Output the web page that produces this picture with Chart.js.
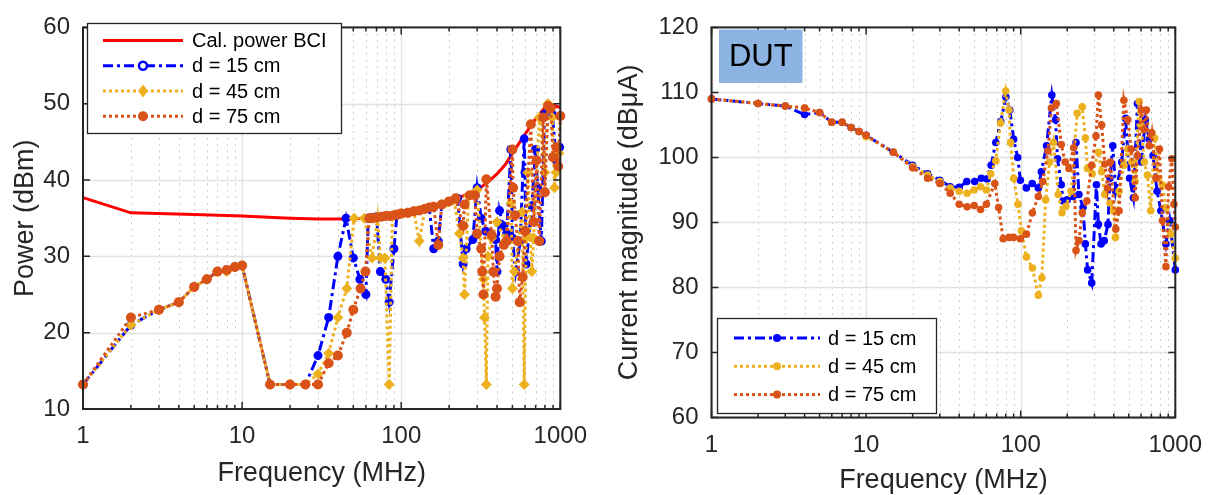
<!DOCTYPE html>
<html><head><meta charset="utf-8">
<script src="https://cdn.jsdelivr.net/npm/chart.js@4.4.1/dist/chart.umd.min.js"></script>
<style>
html,body{margin:0;padding:0;background:#fff;}
#wrap{position:relative;width:1215px;height:495px;overflow:hidden;}
.c{position:absolute;top:0;height:495px;}
</style></head><body>
<div id="wrap">
<div class="c" style="left:0;width:600px;"><canvas id="left"></canvas></div>
<div class="c" style="left:600px;width:615px;"><canvas id="right"></canvas></div>
</div>
<script>
// ---------- tick labels ----------
const xMajorTicks = [1, 10, 100, 1000];
const leftYTicks = [10, 20, 30, 40, 50, 60];
const rightYTicks = [60, 70, 80, 90, 100, 110, 120];

// ---------- LEFT PANEL: power (dBm) ----------
const calFreq = [1,2,5,10,20,30,45,60,80,100,150,200,250,300,350,400,450,500,550,600,700,800,900,1000];
const calPower = [37.7,35.7,35.5,35.3,35.0,34.9,34.9,35.0,35.3,35.6,36.4,37.2,38,38.7,39.7,40.8,42,43.5,44.8,46,48,49.5,49.8,49.5];

const pFreq15 = [1,2,3,4,5,6,7,8,9,10,15,20,25,30,35,40,45,50,55,60,62,66,70,74,80,84,90,94,100,110,120,130,140,150,160,171,180,200,226,245,256,282,300,318,340,365,392,400,415,437,460,489,500,524,560,593,600,610,662,699,720,760,795,838,890,946,990];
const pPow15 = [13.2,21,23,24,26,27,28,28.2,28.6,28.8,13.2,13.2,13.2,17,22,30,35,29.8,27,25,35,35.1,35.2,28,27,24,31,35.4,35.6,35.7,35.9,36,36.2,36.4,31,32,36.8,37.2,37.6,29,31,32.2,39,35,33.3,33,32.2,28,36,34,33,44,32.4,28,32,45.4,41,29,36.6,44,39,32,48.6,49,48.6,42.6,44.3];

const pFreq45 = [1,2,3,4,5,6,7,8,9,10,15,20,25,30,35,40,45.5,50.6,58.6,65.6,71,74,79,84,88,95,100,110,120,130,141,160,180,196,215,232,245,250,265,300,329,334,343,351,370,400,450,490,500,515,576,593,610,625,662,680,738,800,838,890,920,940,980];
const pPow45 = [13.2,21,23,24,26,27,28,28,28.6,28.8,13.2,13.2,13.2,14.6,17.3,22,25.8,35,35,29.8,35,29.8,29.8,13.2,35.2,35.5,35.6,35.7,35.9,32,36.2,36.5,36.8,37.1,37.4,33,29.8,25,37.9,38.7,27,22,13.2,30,32.4,34.5,32,37,25.8,28,35.8,13.2,32.4,41,28,32.4,48.2,41,50,48.2,39,41,43.5];

const pFreq75 = [1,2,3,4,5,6,7,8,9,10,15,20,25,30,35,40,45.5,50,55.5,59.6,63,66,70,75,80,85,90,95,100,110,120,130,140,150,160,171,180,200,220,245,250,270,290,300,318,323,329,343,370,380,392,400,415,442,460,500,505,520,540,556,580,600,653,680,710,738,780,800,837,870,900,946,970,1000];
const pPow75 = [13.2,22,23,24,26,27,28,28.2,28.6,28.8,13.2,13.2,13.2,13.2,16,17,20,23,25.8,28,35,35,35.1,35.2,35.3,35.3,35.4,35.5,35.6,35.7,35.9,36,36.2,36.4,36.5,31.5,36.8,37.2,37.6,34,36.8,38,38,33,31,28,25,40.1,32.8,28,24.7,25.8,30,31.5,32,44,39,35.4,32,24,27.3,33.3,47.3,34.5,42.6,32,48.2,38.4,49.7,49.4,43,44.3,41.8,48.4];

// ---------- RIGHT PANEL: current magnitude (dBuA) ----------
const cFreq15 = [1,2,3,4,5,6,7,8,9,10,15,20,25,30,35,40,44.8,50.4,55.6,60.6,64.4,69,74.3,80.2,85,90,95.6,99.5,108.8,118.8,130,136,147,159,168,173,183,188,200,218,228,238,253,262,271,288,309,318,331,347,367,378,394,412,450,477,506,536,569,603,640,678,718,762,807,870,920,1000];
const cMag15 = [109,108.3,107.9,106.6,106.9,105.4,105.4,104.6,104,103.4,100.8,98.8,97.5,96.5,95.5,95.4,96.3,96.3,96.8,96.7,98.8,102.3,105.5,109.3,107.3,102.8,100,96.5,95.3,96,95.3,97.8,101.8,109.6,105.8,99.8,95.8,93.3,93.5,94,102.3,94.3,92.3,86.7,82.7,80.7,95.8,89.7,86.7,87.2,89.7,96.8,101.8,94.8,99.3,106,96.8,93.8,108.3,99.3,105.8,102.8,100.3,94.8,91.8,86.7,90.3,82.7];

const cFreq45 = [1,2,3,4,5,6,7,8,9,10,15,20,25,30,35,40,45,50,55,60,64,69,74,80,84,86,90,96,101,109,119,130,137,145,154,163,175,185,196,212,232,250,262,270,290,318,334,350,378,398,410,433,465,493,524,550,584,603,630,660,693,735,780,823,870,933,1000];
const cMag45 = [109,108.3,107.9,107.6,106.9,105.4,105.4,104.6,104,103.2,100.8,98.6,97.3,96.3,95.3,94.8,94.5,95,95.5,95,97.5,99.5,105.3,110.2,107.3,102.3,96.8,92.8,88.7,84.7,83,78.8,81.5,93.5,99.3,102.3,94.3,91.5,92.5,94.8,106.8,107.8,103,98.3,97.5,100.8,97.8,94.3,93,91.8,87.7,94.8,98.8,101.3,99.3,96.3,108.6,104.8,99.3,97.3,91.8,103,96.8,95.8,92.3,88.2,84.5];

const cFreq75 = [1,2,3,4,5,6,7,8,9,10,15,20,25,30,35,40,45,50,55,60,68,72,77,84,90,99.5,109,119,130,139,150,158,170,183,194,205,220,228,238,250,268,288,307,318,334,350,364,380,412,433,465,493,518,550,569,603,630,650,678,705,750,790,826,870,905,950,980,1000];
const cMag75 = [109,108.3,107.9,107.6,106.9,105.4,105.4,104.6,104,103.4,100.8,98.4,96.8,96,94.5,92.8,92.4,92.6,92,92.8,96,92.3,87.5,87.7,87.7,87.5,88.2,91.5,94,96.3,101,107.6,108.3,102,99.3,98.3,101.5,85.7,87.2,91.5,93.3,98.8,103.3,109.6,105,99,95.3,99.3,89,91.8,108.8,105.8,101.3,93.8,100.3,107.3,104.3,107.3,101.8,103.8,96.8,101.3,90.3,83.2,95.5,99.8,92.8,89.3];

// ---------- styles ----------
const FONT = "'Liberation Sans', Arial, Helvetica, sans-serif";
const TXT = '#262626';
const C_RED = '#FF0000', C_BLUE = '#0000FF', C_YEL = '#EDB120', C_ORG = '#D95319';
const DASHDOT = [10, 4, 3, 4], DOT = [3, 3];

const pts = (xs, ys) => xs.map((x, i) => ({x, y: ys[i]}));

function minorValues() {
  const out = [];
  for (let d = 1; d < 1000; d *= 10) for (let m = 2; m <= 9; m++) out.push(d * m);
  return out;
}

const framePlugin = {
  id: 'frame',
  beforeDatasetsDraw(chart, args, o) {
    const {ctx, chartArea: a, scales: {x, y}} = chart;
    ctx.save();
    ctx.lineWidth = 1;
    ctx.strokeStyle = '#bdbdbd';
    ctx.setLineDash([1.5, 5]);
    for (const v of minorValues()) {
      const px = Math.round(x.getPixelForValue(v)) + 0.5;
      ctx.beginPath(); ctx.moveTo(px, a.top); ctx.lineTo(px, a.bottom); ctx.stroke();
    }
    ctx.setLineDash([]);
    ctx.strokeStyle = '#e1e1e1';
    ctx.lineWidth = 1.3;
    for (const v of xMajorTicks) {
      const px = Math.round(x.getPixelForValue(v)) + 0.5;
      ctx.beginPath(); ctx.moveTo(px, a.top); ctx.lineTo(px, a.bottom); ctx.stroke();
    }
    for (const v of o.yTicks) {
      const py = Math.round(y.getPixelForValue(v)) + 0.5;
      ctx.beginPath(); ctx.moveTo(a.left, py); ctx.lineTo(a.right, py); ctx.stroke();
    }
    ctx.restore();
  },
  afterDatasetsDraw(chart, args, o) {
    const {ctx, chartArea: a, scales: {x, y}} = chart;
    ctx.save();
    ctx.strokeStyle = TXT;
    ctx.lineWidth = 1.5;
    ctx.beginPath();
    for (const v of xMajorTicks) {
      const px = x.getPixelForValue(v);
      ctx.moveTo(px, a.bottom); ctx.lineTo(px, a.bottom - 7);
      ctx.moveTo(px, a.top); ctx.lineTo(px, a.top + 7);
    }
    for (const v of minorValues()) {
      const px = x.getPixelForValue(v);
      ctx.moveTo(px, a.bottom); ctx.lineTo(px, a.bottom - 4);
      ctx.moveTo(px, a.top); ctx.lineTo(px, a.top + 4);
    }
    for (const v of o.yTicks) {
      const py = y.getPixelForValue(v);
      ctx.moveTo(a.left, py); ctx.lineTo(a.left + 7, py);
      ctx.moveTo(a.right, py); ctx.lineTo(a.right - 7, py);
    }
    ctx.stroke();
    ctx.lineWidth = 2;
    ctx.strokeRect(a.left, a.top, a.right - a.left, a.bottom - a.top);

    if (o.tag) {
      const t = o.tag;
      ctx.fillStyle = '#8DB3E2';
      ctx.fillRect(t.x, t.y, t.w, t.h);
      ctx.fillStyle = '#000';
      ctx.font = `${t.size}px ${FONT}`;
      ctx.textAlign = 'center'; ctx.textBaseline = 'middle';
      ctx.fillText(t.text, t.x + t.w / 2, t.y + t.h / 2 + 1);
    }
    const L = o.legend;
    ctx.fillStyle = '#fff';
    ctx.fillRect(L.x, L.y, L.w, L.h);
    ctx.lineWidth = 1.3;
    ctx.strokeStyle = TXT;
    ctx.strokeRect(L.x + 0.5, L.y + 0.5, L.w, L.h);
    const ds = chart.data.datasets;
    L.items.forEach((idx, k) => {
      const d = ds[idx];
      const yy = L.y + L.row0 + k * L.rowH;
      ctx.strokeStyle = d.borderColor;
      ctx.lineWidth = d.borderWidth;
      ctx.setLineDash(d.borderDash || []);
      ctx.beginPath(); ctx.moveTo(L.x + L.lineX0, yy); ctx.lineTo(L.x + L.lineX1, yy); ctx.stroke();
      ctx.setLineDash([]);
      const mx = L.x + (L.lineX0 + L.lineX1) / 2;
      if (d.pointRadius > 0) {
        ctx.fillStyle = d.pointBackgroundColor;
        const r = L.markR;
        ctx.beginPath();
        if (d.pointStyle === 'rectRot') {
          ctx.moveTo(mx, yy - r - 1.5); ctx.lineTo(mx + r, yy); ctx.lineTo(mx, yy + r + 1.5); ctx.lineTo(mx - r, yy);
          ctx.closePath(); ctx.fill();
        } else if (d.legendOpen) {
          ctx.arc(mx, yy, r - 1, 0, Math.PI * 2);
          ctx.fillStyle = '#fff'; ctx.fill();
          ctx.lineWidth = 2.5; ctx.strokeStyle = d.borderColor; ctx.stroke();
        } else {
          ctx.arc(mx, yy, r, 0, Math.PI * 2); ctx.fill();
        }
      }
      ctx.fillStyle = '#000';
      ctx.font = `${L.size}px ${FONT}`;
      ctx.textAlign = 'left'; ctx.textBaseline = 'middle';
      ctx.fillText(d.label, L.x + L.textX, yy + 1);
    });
    ctx.restore();
  }
};

function makeChart(id, cfg) {
  const W = cfg.W, H = 495, A = cfg.area;
  return new Chart(document.getElementById(id), {
    type: 'line',
    data: {datasets: cfg.datasets},
    options: {
      responsive: true, maintainAspectRatio: false, animation: false, devicePixelRatio: 1,
      events: [],
      layout: {padding: {top: A.top, right: W - A.right, bottom: 0, left: 0}},
      plugins: {legend: {display: false}, tooltip: {enabled: false}, frame: cfg.frame},
      elements: {line: {tension: 0}},
      scales: {
        x: {
          type: 'logarithmic', min: 1, max: 1000,
          afterBuildTicks: s => { s.ticks = xMajorTicks.map(v => ({value: v})); },
          afterFit: s => { s.height = H - A.bottom; },
          grid: {display: false, drawTicks: false},
          border: {display: false},
          ticks: {autoSkip: false, maxRotation: 0, minRotation: 0, padding: cfg.xTickPad, color: TXT,
                  font: {family: FONT, size: cfg.tickSize}, callback: v => String(v)},
          title: {display: true, text: 'Frequency (MHz)', color: TXT,
                  font: {family: FONT, size: cfg.titleSize}, padding: {top: 0, bottom: cfg.xTitlePad}}
        },
        y: {
          min: cfg.yTicks[0], max: cfg.yTicks[cfg.yTicks.length - 1],
          afterBuildTicks: s => { s.ticks = cfg.yTicks.map(v => ({value: v})); },
          afterFit: s => { s.width = A.left; },
          grid: {display: false, drawTicks: false},
          border: {display: false},
          ticks: {padding: cfg.yTickPad, color: TXT, font: {family: FONT, size: cfg.tickSize}},
          title: {display: true, text: cfg.yTitle, color: TXT,
                  font: {family: FONT, size: cfg.titleSize}, padding: {top: cfg.yTitlePad, bottom: 0}}
        }
      }
    },
    plugins: [framePlugin]
  });
}

function series(label, data, color, dash, width, style, radius, order, extra) {
  return Object.assign({
    label, data, borderColor: color, borderWidth: width, borderDash: dash,
    pointStyle: style, pointRadius: radius, pointBackgroundColor: color, pointBorderColor: color,
    pointBorderWidth: 0, fill: false, clip: false, order
  }, extra || {});
}

makeChart('left', {
  W: 600, area: {left: 83, right: 563, top: 17.5, bottom: 409},
  yTicks: leftYTicks, yTitle: 'Power (dBm)',
  tickSize: 24, titleSize: 27, xTickPad: 13, xTitlePad: 5, yTickPad: 13, yTitlePad: 9,
  datasets: [
    series('Cal. power BCI', pts(calFreq, calPower), C_RED, [], 3, 'circle', 0, 3),
    series('d = 15 cm', pts(pFreq15, pPow15), C_BLUE, DASHDOT, 3, 'circle', 4.5, 2, {legendOpen: true}),
    series('d = 45 cm', pts(pFreq45, pPow45), C_YEL, DOT, 3, 'rectRot', 5.5, 1),
    series('d = 75 cm', pts(pFreq75, pPow75), C_ORG, DOT, 3, 'circle', 5, 0)
  ],
  frame: {
    yTicks: leftYTicks,
    legend: {x: 87, y: 23, w: 254, h: 110, row0: 17.6, rowH: 25.2, lineX0: 16, lineX1: 96, markR: 5,
             textX: 105, size: 20, items: [0, 1, 2, 3]}
  }
});

makeChart('right', {
  W: 615, area: {left: 111.5, right: 578, top: 19.5, bottom: 417.5},
  yTicks: rightYTicks, yTitle: 'Current magnitude (dB\u03BCA)',
  tickSize: 24, titleSize: 27, xTickPad: 13, xTitlePad: -2, yTickPad: 13, yTitlePad: 13,
  datasets: [
    series('d = 15 cm', pts(cFreq15, cMag15), C_BLUE, DASHDOT, 3, 'circle', 3.8, 2),
    series('d = 45 cm', pts(cFreq45, cMag45), C_YEL, DOT, 3, 'circle', 3.8, 1),
    series('d = 75 cm', pts(cFreq75, cMag75), C_ORG, DOT, 3, 'circle', 3.8, 0)
  ],
  frame: {
    yTicks: rightYTicks,
    tag: {x: 119, y: 29.5, w: 83.5, h: 53.5, text: 'DUT', size: 31},
    legend: {x: 117, y: 318, w: 219, h: 95, row0: 20, rowH: 28.3, lineX0: 17, lineX1: 103, markR: 4,
             textX: 111, size: 20, items: [0, 1, 2]}
  }
});
</script>
</body></html>
